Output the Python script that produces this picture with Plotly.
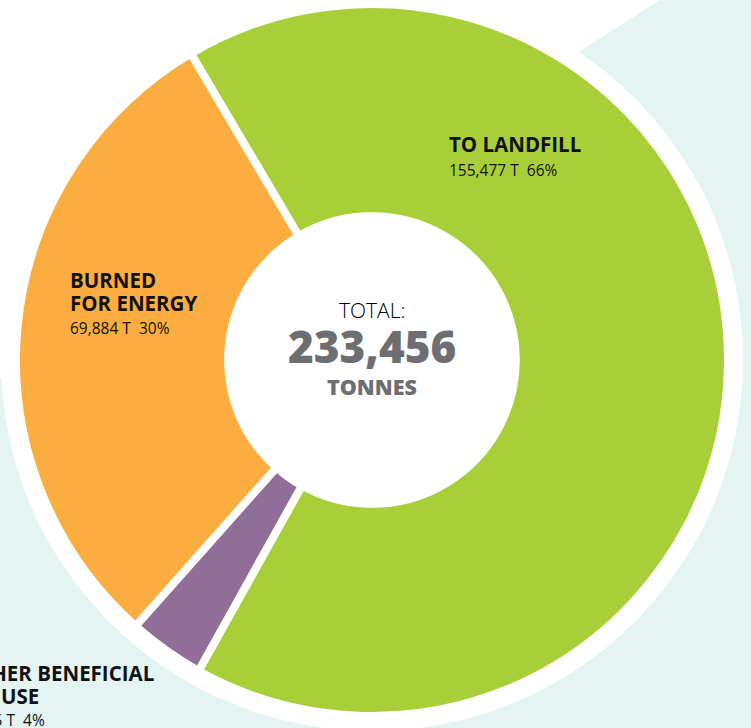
import plotly.graph_objects as go

# Waste destination breakdown (tonnes)
categories = ["TO LANDFILL", "OTHER BENEFICIAL USE", "BURNED FOR ENERGY"]
tonnes = [155477, 8095, 69884]
pct_labels = ["66%", "4%", "30%"]
colors = ["#a9cf38", "#916e98", "#fbae3f"]
total = sum(tonnes)

W, H = 751, 728
cx, cy, r_out = 372, 360, 356  # donut centre / outer radius in px (stroke included)

fig = go.Figure()

fig.add_trace(go.Pie(
    labels=categories,
    values=tonnes,
    sort=False,
    direction="clockwise",
    rotation=-30.6,
    hole=0.404,
    marker=dict(colors=colors, line=dict(color="white", width=8)),
    textinfo="none",
    hoverinfo="skip",
    showlegend=False,
    domain=dict(
        x=[(cx - r_out) / W, (cx + r_out) / W],
        y=[1 - (cy + r_out) / H, 1 - (cy - r_out) / H],
    ),
))

# light teal backdrop with a white halo around the ring
shapes = [
    dict(type="path", path="M 660 0 L 751 0 L 751 728 L 0 728 L 0 378 L 372 360 L 494 106 Z",
         xref="x", yref="y", fillcolor="#e3f4f3", line=dict(width=0), layer="below"),
    dict(type="circle", xref="x", yref="y", x0=cx - 371, x1=cx + 371, y0=cy - 371, y1=cy + 371,
         fillcolor="white", line=dict(width=0), layer="below"),
]

def fmt(i):
    return f"{tonnes[i]:,} T  {pct_labels[i]}"

FONT = "Open Sans"
ann = []

def txt(x, y, s, size, weight=400, color="#111111", anchor="left"):
    # positions given in pixels from the top-left corner, placed on paper coords
    ann.append(dict(x=x / W, y=1 - y / H, xref="paper", yref="paper", text=s,
                    showarrow=False, xanchor=anchor, yanchor="middle",
                    font=dict(family=FONT, size=size, color=color, weight=weight)))

# landfill
txt(447, 144, "TO LANDFILL", 20.5, weight=700)
txt(447, 170, fmt(0), 15.5)
# burned for energy
txt(68, 280, "BURNED", 20.5, weight=700)
txt(68, 303, "FOR ENERGY", 20.5, weight=700)
txt(68, 328, fmt(2), 15.5)
# other beneficial use
txt(-39, 673, "OTHER BENEFICIAL", 20.5, weight=700)
txt(-1, 696, "USE", 20.5, weight=700)
txt(-39, 720, fmt(1), 15.5)

# centre total
txt(cx, 310, "TOTAL:", 21, weight=300, color="#000000", anchor="center")
txt(cx, 346, f"{total:,}", 44, weight=800, color="#6d6e71", anchor="center")
txt(cx, 386, "TONNES", 21.5, weight=800, color="#6d6e71", anchor="center")

fig.update_layout(
    width=W, height=H,
    margin=dict(l=0, r=0, t=0, b=0),
    paper_bgcolor="white", plot_bgcolor="white",
    xaxis=dict(range=[0, W], visible=False, fixedrange=True),
    yaxis=dict(range=[H, 0], visible=False, fixedrange=True),
    shapes=shapes,
    annotations=ann,
    hovermode=False,
)

fig.write_html("out.html")
